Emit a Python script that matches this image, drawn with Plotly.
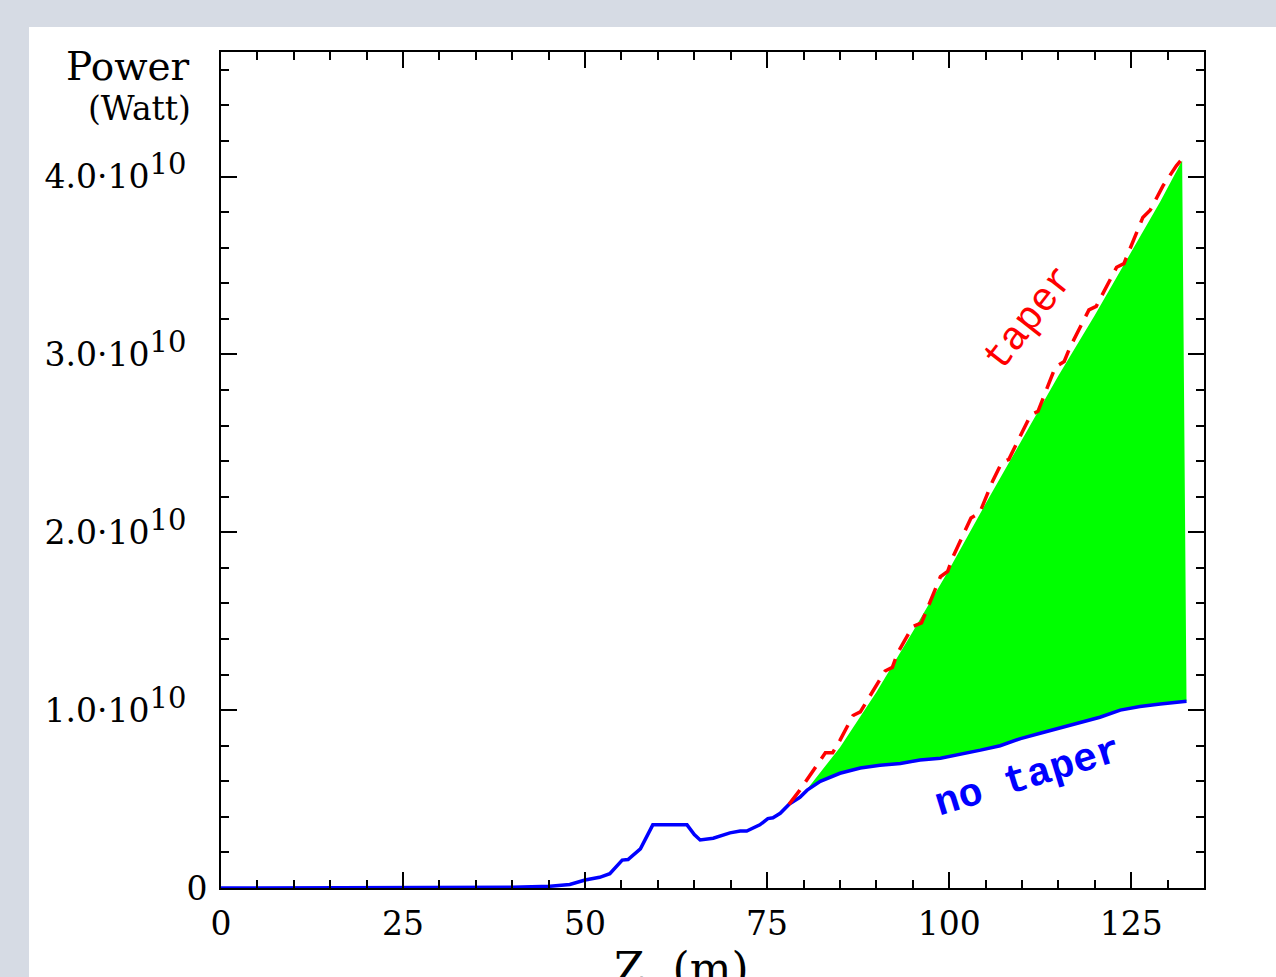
import plotly.graph_objects as go

# ---------------- data (values in units of 1e10 W) ----------------
z_notaper = [0, 10, 20, 30, 38, 40, 44, 45.2, 47.9, 50, 52, 53.4, 55.1, 55.9,
             57.6, 58.9, 59.3, 64.0, 65.0, 65.8, 67.6, 69.9, 71.3, 72.2, 74.0,
             75.1, 75.8, 76.8, 78.0, 79.5, 80.5, 82.3, 85.0, 87.8, 90.5, 93.3,
             96.0, 98.8, 101.5, 104.3, 107.0, 109.8, 112.5, 115.2, 118.0, 120.7,
             123.5, 126.2, 129.0, 132.6]
p_notaper = [0, 0, 0, 0, 0.002, 0.004, 0.008, 0.01, 0.02, 0.045, 0.06, 0.08, 0.157, 0.16,
             0.22, 0.33, 0.355, 0.355, 0.30, 0.27, 0.28, 0.31, 0.32, 0.32, 0.355,
             0.39, 0.395, 0.42, 0.47, 0.51, 0.55, 0.60, 0.645, 0.675, 0.69, 0.70,
             0.72, 0.73, 0.75, 0.775, 0.80, 0.84, 0.87, 0.90, 0.93, 0.96,
             1.0, 1.02, 1.035, 1.05]

z_taper = [78.0, 79.5, 83.0, 84.0, 85.0, 86.8, 87.8, 90.1, 91.2, 92.2, 92.9, 95.0,
           96.2, 98.8, 99.8, 100.5, 103.0, 104.2, 106.0, 107.2, 108.2, 111.2, 112.2,
           114.6, 115.8, 116.6, 119.2, 120.2, 123.0, 124.0, 126.6, 127.6, 129.4,
           131.2, 132.0]
p_taper = [0.47, 0.55, 0.76, 0.76, 0.83, 0.97, 0.99, 1.14, 1.22, 1.24, 1.32, 1.47,
           1.49, 1.75, 1.78, 1.86, 2.08, 2.11, 2.29, 2.39, 2.41, 2.66, 2.68,
           2.93, 2.96, 3.04, 3.25, 3.27, 3.49, 3.51, 3.77, 3.81, 3.95,
           4.06, 4.10]

# upper edge of the green band
z_band_top = [78.0, 80.0, 85.0, 90.0, 95.0, 100.0, 105.0, 110.0, 115.0, 120.0,
              125.0, 129.0, 132.0]
p_band_top = [0.47, 0.53, 0.79, 1.10, 1.44, 1.79, 2.16, 2.52, 2.88, 3.22,
              3.58, 3.86, 4.09]

x_tickvals = [0, 25, 50, 75, 100, 125]
x_ticktext = ["0", "25", "50", "75", "100", "125"]
y_tickvals = [0, 1.0, 2.0, 3.0, 4.0]
SUP = "<sup><span style='font-size:29px'>10</span></sup>&nbsp;&nbsp;"
y_ticktext = ["0",
              "1.0·10" + SUP,
              "2.0·10" + SUP,
              "3.0·10" + SUP,
              "4.0·10" + SUP]

SCALE = 1e10
zt = [v * SCALE for v in y_tickvals]

# --------------- figure ---------------
fig = go.Figure()

z_low = [z for z in z_notaper if z >= 78.0]
p_low = [p * SCALE for z, p in zip(z_notaper, p_notaper) if z >= 78.0]

fig.add_trace(go.Scatter(x=z_low, y=p_low, mode="lines",
                         line=dict(width=0, color="#00ff00"),
                         showlegend=False, hoverinfo="skip"))
fig.add_trace(go.Scatter(x=z_band_top, y=[p * SCALE for p in p_band_top], mode="lines",
                         line=dict(width=0, color="#00ff00"),
                         fill="tonexty", fillcolor="#00ff00",
                         showlegend=False, hoverinfo="skip"))
fig.add_trace(go.Scatter(x=z_notaper, y=[p * SCALE for p in p_notaper], mode="lines",
                         line=dict(width=3.5, color="#0000ff"), name="no taper",
                         showlegend=False))
fig.add_trace(go.Scatter(x=z_taper, y=[p * SCALE for p in p_taper], mode="lines",
                         line=dict(width=3.5, color="#ff0000", dash="18px,10px"),
                         name="taper", showlegend=False))

serif = "DejaVu Serif"
mono = "Liberation Mono"

fig.update_layout(
    width=1276, height=977,
    margin=dict(l=221, r=72, t=52, b=89),
    paper_bgcolor="#d6dbe4",
    plot_bgcolor="white",
    font=dict(family=serif, color="black", size=33),
    showlegend=False,
)

fig.update_xaxes(
    range=[0, 135], tickmode="array", tickvals=x_tickvals, ticktext=x_ticktext,
    ticks="inside", ticklen=16, tickwidth=2, tickcolor="black",
    minor=dict(dtick=5, ticks="inside", ticklen=8, tickwidth=2, tickcolor="black"),
    showline=True, linewidth=2, linecolor="black", mirror="ticks",
    showgrid=False, zeroline=False, ticklabelstandoff=5,
    tickfont=dict(family=serif, size=33, color="black"),
)
fig.update_yaxes(
    range=[0, 4.7e10], tickmode="array", tickvals=zt, ticktext=y_ticktext,
    ticks="inside", ticklen=16, tickwidth=2, tickcolor="black",
    minor=dict(dtick=0.2e10, tick0=0, ticks="inside", ticklen=8, tickwidth=2,
               tickcolor="black"),
    showline=True, linewidth=2, linecolor="black", mirror="ticks",
    showgrid=False, zeroline=False, ticklabelstandoff=5,
    tickfont=dict(family=serif, size=33, color="black"),
)

# white panel behind the chart
fig.add_shape(type="rect", xref="paper", yref="paper",
              x0=(29 - 221) / 983, x1=1.2, y0=-0.2, y1=(888 - 27) / 836,
              fillcolor="white", line=dict(width=0), layer="below")

# axis titles
fig.add_annotation(text="Power", xref="paper", yref="paper",
                   x=(192 - 221) / 983, y=(888 - 66) / 836,
                   xanchor="right", yanchor="middle", showarrow=False,
                   font=dict(family=serif, size=39, color="black"))
fig.add_annotation(text="(Watt)", xref="paper", yref="paper",
                   x=(193 - 221) / 983, y=(888 - 108) / 836,
                   xanchor="right", yanchor="middle", showarrow=False,
                   font=dict(family=serif, size=33, color="black"))
fig.add_annotation(text="Z&nbsp;&nbsp;(m)", xref="paper", yref="paper",
                   x=(681 - 221) / 983, y=(888 - 968) / 836,
                   xanchor="center", yanchor="middle", showarrow=False,
                   font=dict(family=serif, size=44, color="black"))

# curve labels
fig.add_annotation(text="taper", x=111.1, y=3.20e10, xref="x", yref="y",
                   textangle=-52, showarrow=False,
                   font=dict(family=mono, size=40, color="#ff0000"))
fig.add_annotation(text="no taper", x=110.85, y=0.62e10, xref="x", yref="y",
                   textangle=-17, showarrow=False,
                   font=dict(family=mono, size=40, color="#0000ff", weight="bold"))

fig.write_html("out.html")
